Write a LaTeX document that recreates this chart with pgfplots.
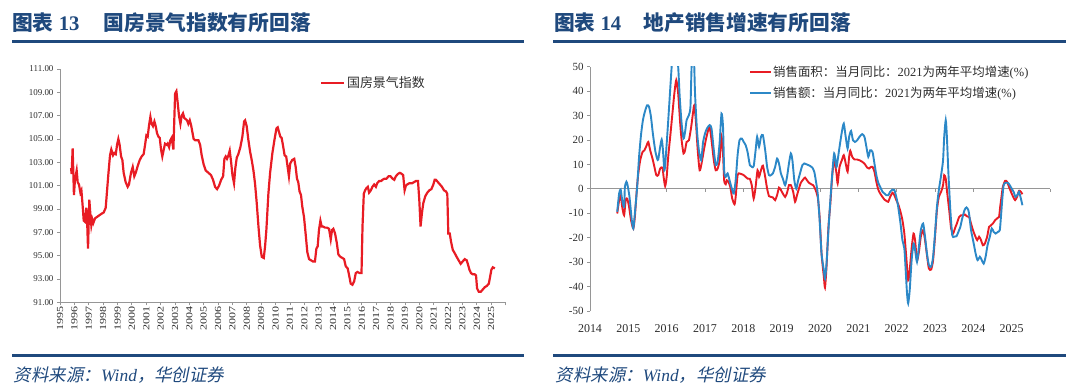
\documentclass[border=0pt]{standalone}
\usepackage{pgfplots}
\pgfplotsset{compat=1.18}
\usepackage{fontspec}
\setmainfont{Liberation Serif}
\newfontfamily\cjk{Noto Sans CJK SC}
\newfontfamily\cjkit{Noto Sans CJK SC}[FakeSlant=0.2]
\definecolor{tblue}{RGB}{31,73,125}
\definecolor{lred}{RGB}{232,28,36}
\definecolor{sblue}{RGB}{44,136,199}
\definecolor{axgray}{RGB}{150,150,150}
\definecolor{txt}{RGB}{45,45,45}
\newcommand\yl[1]{\scalebox{1.3}[1]{#1}}
\begin{document}
\begin{tikzpicture}
\path[use as bounding box] (0bp,0bp) rectangle (1080bp,390bp);
% titles
\node[anchor=base west, inner sep=0, text=tblue] at (12bp,359.5bp) {\fontsize{20.8}{24}\selectfont{\cjk\bfseries 图表} \textbf{13}};
\node[anchor=base west, inner sep=0, text=tblue] at (103.4bp,359.5bp) {\fontsize{20.8}{24}\selectfont\cjk\bfseries 国房景气指数有所回落};
\node[anchor=base west, inner sep=0, text=tblue] at (553.8bp,359.5bp) {\fontsize{20.8}{24}\selectfont{\cjk\bfseries 图表} \textbf{14}};
\node[anchor=base west, inner sep=0, text=tblue] at (643.4bp,359.5bp) {\fontsize{20.8}{24}\selectfont\cjk\bfseries 地产销售增速有所回落};
\draw[tblue, line width=3bp] (12bp,348.6bp) -- (524bp,348.6bp);
\draw[tblue, line width=3bp] (12bp,34.5bp) -- (524bp,34.5bp);
\draw[tblue, line width=3bp] (553bp,348.6bp) -- (1066bp,348.6bp);
\draw[tblue, line width=3bp] (553bp,34.5bp) -- (1066bp,34.5bp);
\node[anchor=base west, inner sep=0, text=tblue] at (13.8bp,9bp) {\fontsize{17.5}{20}\selectfont\cjkit 资料来源：{\rmfamily\itshape Wind}，华创证券};
\node[anchor=base west, inner sep=0, text=tblue] at (555.5bp,9bp) {\fontsize{17.5}{20}\selectfont\cjkit 资料来源：{\rmfamily\itshape Wind}，华创证券};

% ---------- left chart ----------
\begin{axis}[
  at={(60bp,87.7bp)}, anchor=south west,
  scale only axis, width=445.5bp, height=233.3bp,
  xmin=1995, xmax=2026, ymin=91, ymax=111,
  axis lines=left, axis line style={axgray, -, line width=0.8bp},
  tick style={axgray, line width=0.8bp}, tick align=outside, major tick length=3bp,
  xtick={1995,1996,1997,1998,1999,2000,2001,2002,2003,2004,2005,2006,2007,2008,2009,2010,2011,2012,2013,2014,2015,2016,2017,2018,2019,2020,2021,2022,2023,2024,2025,2026},
  xticklabels={\yl{1995},\yl{1996},\yl{1997},\yl{1998},\yl{1999},\yl{2000},\yl{2001},\yl{2002},\yl{2003},\yl{2004},\yl{2005},\yl{2006},\yl{2007},\yl{2008},\yl{2009},\yl{2010},\yl{2011},\yl{2012},\yl{2013},\yl{2014},\yl{2015},\yl{2016},\yl{2017},\yl{2018},\yl{2019},\yl{2020},\yl{2021},\yl{2022},\yl{2023},\yl{2024},\yl{2025},{}},
  xticklabel style={rotate=90, anchor=east, font=\fontsize{9.3}{10}\selectfont, text=txt, inner sep=1bp},
  ytick={91,93,...,111},
  yticklabel style={font=\fontsize{9}{10}\selectfont, text=txt, /pgf/number format/fixed, /pgf/number format/fixed zerofill, /pgf/number format/precision=2, /pgf/number format/assume math mode=true},
  legend style={at={(0.584,0.939)}, anchor=west, draw=none, fill=none, inner sep=0, font=\fontsize{13}{15}\selectfont\cjk, text=txt, nodes={inner sep=1.5bp}},
  legend image code/.code={\draw[#1] (0bp,0bp) -- (23bp,0bp);},
]
\addplot[lred, line width=2.2bp, mark=none] coordinates {
(1995.77,102.5)(1995.81,102.0)(1995.88,104.2)(1995.97,100.2)(1996.04,101.5)(1996.16,102.3)(1996.23,101.3)(1996.32,101.1)(1996.42,100.4)(1996.49,100.6)
(1996.58,99.2)(1996.65,98.0)(1996.74,97.9)(1996.83,99.1)(1996.90,97.5)(1996.95,95.6)(1997.04,99.8)(1997.11,98.6)(1997.18,97.6)(1997.25,98.1)
(1997.32,97.8)(1997.44,98.2)(1997.67,98.4)(1997.90,98.6)(1998.04,98.7)(1998.18,99.1)(1998.27,100.5)(1998.36,101.9)(1998.48,103.6)(1998.57,104.1)
(1998.69,103.6)(1998.78,103.8)(1998.88,103.7)(1998.97,104.5)(1999.06,105.0)(1999.15,104.5)(1999.25,103.5)(1999.34,103.2)(1999.43,102.1)(1999.57,101.3)
(1999.71,100.9)(1999.80,101.1)(1999.94,102.1)(2000.06,102.6)(2000.17,101.8)(2000.27,102.1)(2000.41,102.7)(2000.55,103.2)(2000.68,103.5)(2000.82,103.7)
(2000.92,104.5)(2001.01,105.3)(2001.10,105.2)(2001.20,106.2)(2001.29,106.9)(2001.38,106.3)(2001.47,106.1)(2001.57,106.5)(2001.66,106.1)(2001.75,105.5)
(2001.85,105.2)(2001.94,105.1)(2002.03,104.1)(2002.12,103.5)(2002.22,104.1)(2002.31,104.6)(2002.43,104.5)(2002.49,104.6)(2002.59,104.3)(2002.68,104.9)
(2002.77,105.1)(2002.89,104.1)(2003.01,108.9)(2003.10,109.1)(2003.19,108.1)(2003.28,107.0)(2003.38,106.3)(2003.47,107.0)(2003.56,107.2)(2003.65,106.8)
(2003.75,106.7)(2003.84,106.6)(2003.93,106.3)(2004.03,106.6)(2004.12,106.2)(2004.21,105.6)(2004.30,105.0)(2004.40,104.9)(2004.51,104.9)(2004.63,104.9)
(2004.75,104.5)(2004.86,103.6)(2005.00,102.8)(2005.14,102.3)(2005.33,102.1)(2005.51,101.9)(2005.65,101.5)(2005.79,100.9)(2005.93,100.7)(2006.07,101.0)
(2006.21,101.5)(2006.35,101.8)(2006.44,103.3)(2006.53,103.5)(2006.62,103.3)(2006.72,103.6)(2006.81,104.0)(2006.90,103.1)(2007.00,101.9)(2007.11,101.2)
(2007.20,102.5)(2007.30,103.4)(2007.41,103.7)(2007.55,104.3)(2007.69,105.2)(2007.81,106.5)(2007.88,106.6)(2007.99,106.1)(2008.11,104.9)(2008.23,103.9)
(2008.34,103.2)(2008.46,102.3)(2008.57,101.2)(2008.69,99.5)(2008.81,97.5)(2008.92,95.9)(2009.04,94.9)(2009.18,94.8)(2009.27,95.8)(2009.36,97.2)
(2009.50,100.3)(2009.62,102.1)(2009.78,103.8)(2009.92,104.9)(2010.06,105.9)(2010.15,106.0)
(2010.33,105.2)(2010.42,105.1)(2010.51,104.5)(2010.63,103.6)(2010.74,103.5)(2010.84,102.6)(2010.93,101.8)(2011.02,102.9)(2011.16,103.2)(2011.30,103.3)
(2011.40,102.6)(2011.49,101.6)(2011.58,101.3)(2011.67,100.5)(2011.77,100.2)(2011.86,99.2)(2011.98,98.3)(2012.09,96.9)(2012.21,95.3)(2012.33,94.7)
(2012.47,94.6)(2012.60,94.5)(2012.74,94.5)(2012.84,95.6)(2012.93,95.8)(2013.02,97.2)(2013.12,98.0)(2013.21,97.5)(2013.30,97.5)(2013.44,97.4)
(2013.58,97.4)(2013.72,97.3)(2013.84,96.4)(2013.93,97.2)(2014.02,97.3)(2014.14,96.9)(2014.26,96.1)(2014.37,95.1)(2014.51,94.9)(2014.65,94.8)
(2014.77,94.7)(2014.88,94.1)(2015.02,93.9)(2015.12,93.3)(2015.23,92.6)(2015.35,92.5)(2015.47,92.8)(2015.58,93.5)(2015.70,93.6)(2015.86,93.5)
(2015.98,93.5)(2016.05,97.5)(2016.14,100.3)(2016.23,100.6)(2016.33,100.8)(2016.42,100.9)(2016.51,100.4)(2016.63,100.6)(2016.74,100.9)(2016.86,101.1)
(2016.98,100.9)(2017.07,101.2)(2017.21,101.4)(2017.35,101.4)(2017.44,101.5)(2017.58,101.6)(2017.72,101.6)(2017.86,101.8)(2018.00,101.8)(2018.14,101.6)
(2018.26,101.5)(2018.37,101.8)(2018.51,102.0)(2018.65,102.1)(2018.79,102.0)(2018.88,101.9)(2018.98,100.6)(2019.07,101.0)(2019.16,101.1)(2019.30,101.2)
(2019.49,101.2)(2019.63,101.3)(2019.77,101.4)(2019.91,101.4)(2020.00,99.8)(2020.09,97.5)(2020.19,98.7)(2020.28,99.5)(2020.42,100.1)(2020.56,100.4)
(2020.70,100.6)(2020.84,100.7)(2020.98,101.1)(2021.07,101.5)(2021.16,101.5)(2021.30,101.3)(2021.44,101.1)(2021.58,100.9)(2021.72,100.6)(2021.86,100.5)
(2021.95,100.3)(2022.02,96.9)(2022.12,96.9)(2022.21,96.2)(2022.33,95.5)(2022.47,95.2)(2022.60,94.9)(2022.74,94.6)(2022.88,94.3)(2023.02,94.5)
(2023.16,94.7)(2023.30,94.6)(2023.40,94.2)(2023.49,93.8)(2023.60,93.5)(2023.72,93.4)(2023.86,93.4)(2023.95,93.3)(2024.02,92.2)(2024.14,91.9)
(2024.28,91.9)(2024.42,92.1)(2024.56,92.3)(2024.70,92.4)(2024.84,92.6)(2024.93,93.2)(2025.02,93.8)(2025.12,94.0)(2025.26,93.9)
};
\addlegendentry{国房景气指数}
\end{axis}

% ---------- right chart ----------
\begin{axis}[
  at={(590bp,79bp)}, anchor=south west,
  scale only axis, width=460bp, height=244.3bp,
  xmin=2014, xmax=2026, ymin=-50, ymax=50,
  axis x line=middle, axis y line=left,
  axis line style={axgray, -, line width=0.8bp},
  hide obscured x ticks=false,
  tick align=outside, major tick length=3bp,
  tick style={axgray, line width=0.8bp},
  xtick={2014,2015,2016,2017,2018,2019,2020,2021,2022,2023,2024,2025,2026},
  xticklabels={2014,2015,2016,2017,2018,2019,2020,2021,2022,2023,2024,2025,{}},
  xticklabel style={yshift=-129bp, font=\fontsize{12}{14}\selectfont, text=txt},
  ytick={-50,-40,...,50},
  yticklabel style={font=\fontsize{11}{13}\selectfont, text=txt, /pgf/number format/assume math mode=true},
  legend style={at={(0.3457,0.935)}, anchor=west, draw=none, fill=none, inner sep=0, font=\fontsize{12.5}{14}\selectfont, text=txt, row sep=7.6bp, nodes={inner sep=1bp}},
  legend cell align=left,
  legend image code/.code={\draw[#1] (0bp,0bp) -- (21bp,0bp);},
]
\addplot[lred, line width=1.9bp, mark=none, smooth, tension=0.4] coordinates {
(2014.71,-10.1)(2014.76,-4.6)(2014.80,-2.6)(2014.84,-7.4)(2014.89,-10.8)(2014.93,-4.6)(2014.97,-4.0)(2015.02,-7.4)(2015.07,-12.8)(2015.13,-16.2)
(2015.17,-11.5)(2015.22,-0.5)(2015.26,6.3)(2015.31,11.7)(2015.37,15.1)(2015.42,15.8)(2015.47,17.5)(2015.52,19.2)(2015.57,15.8)(2015.63,12.4)
(2015.68,9.0)(2015.73,5.6)(2015.78,5.6)(2015.83,8.3)(2015.89,8.7)(2015.92,4.9)(2015.96,1.1)(2016.00,4.9)(2016.04,13.1)(2016.10,22.6)
(2016.15,30.8)(2016.20,39.0)(2016.25,44.5)(2016.30,39.0)(2016.35,27.4)(2016.39,19.9)(2016.44,14.5)(2016.48,15.8)(2016.52,19.2)(2016.58,19.9)
(2016.64,25.4)(2016.69,31.5)(2016.72,34.2)(2016.76,28.1)(2016.81,15.8)(2016.86,7.6)(2016.91,10.4)(2016.97,15.8)(2017.02,19.9)(2017.07,23.3)
(2017.12,25.4)(2017.17,19.9)(2017.23,11.7)(2017.28,7.6)(2017.33,8.3)(2017.38,11.7)(2017.43,21.3)(2017.47,14.5)(2017.50,3.5)(2017.54,1.9)
(2017.57,3.5)(2017.61,2.9)(2017.66,0.8)(2017.71,-4.0)(2017.77,-6.3)(2017.80,-3.3)(2017.85,5.6)(2017.90,6.3)(2017.96,6.0)(2018.01,5.6)
(2018.06,4.9)(2018.11,4.2)(2018.17,4.1)(2018.22,1.5)(2018.27,-4.0)(2018.32,0.8)(2018.37,7.6)(2018.41,4.9)(2018.46,7.6)(2018.51,9.5)
(2018.57,4.9)(2018.62,0.1)(2018.67,-3.0)(2018.72,-3.3)(2018.77,-3.5)(2018.83,-4.6)(2018.88,-2.6)(2018.93,0.5)(2018.98,-0.5)(2019.03,-1.9)
(2019.09,-3.3)(2019.14,-1.6)(2019.19,1.5)(2019.24,1.5)(2019.30,-1.2)(2019.35,-5.3)(2019.40,-2.6)(2019.45,0.1)(2019.50,2.5)(2019.56,3.8)
(2019.61,4.6)(2019.66,3.5)(2019.71,2.5)(2019.77,1.9)(2019.82,1.5)(2019.87,0.1)(2019.94,-3.3)(2019.99,-11.5)(2020.04,-26.5)(2020.10,-36.0)
(2020.13,-40.4)(2020.17,-31.9)(2020.22,-15.6)(2020.27,-6.0)(2020.32,5.6)(2020.37,11.7)(2020.43,6.3)(2020.46,2.2)(2020.51,9.0)(2020.57,11.7)
(2020.62,13.8)(2020.67,10.4)(2020.72,7.0)(2020.76,13.1)(2020.79,15.6)(2020.84,13.1)(2020.90,12.0)(2020.97,12.0)(2021.03,11.7)(2021.10,11.1)
(2021.17,10.1)(2021.23,8.7)(2021.28,8.3)(2021.33,9.0)(2021.37,9.0)(2021.42,7.0)(2021.47,2.9)(2021.52,-0.3)(2021.57,-1.9)(2021.63,-3.3)
(2021.68,-4.4)(2021.73,-4.9)(2021.78,-5.3)(2021.83,-3.3)(2021.89,-1.6)(2021.94,-2.6)(2021.99,-4.6)(2022.04,-6.3)(2022.10,-9.4)(2022.15,-12.8)
(2022.20,-18.3)(2022.25,-27.8)(2022.30,-37.4)(2022.34,-33.3)(2022.39,-24.4)(2022.44,-18.3)(2022.48,-21.0)(2022.53,-29.2)(2022.58,-25.8)(2022.63,-19.6)
(2022.69,-16.9)(2022.74,-21.0)(2022.79,-27.1)(2022.84,-32.6)(2022.90,-33.0)(2022.95,-29.2)(2023.00,-19.6)(2023.05,-8.7)(2023.10,-3.3)(2023.16,-1.2)
(2023.21,1.5)(2023.24,5.6)(2023.28,4.2)(2023.31,-0.5)(2023.37,-8.7)(2023.42,-16.2)(2023.47,-18.3)(2023.52,-16.2)(2023.57,-14.2)(2023.63,-11.5)
(2023.68,-10.8)(2023.73,-10.8)(2023.78,-10.5)(2023.83,-11.2)(2023.89,-11.5)(2023.94,-14.2)(2023.99,-16.9)(2024.04,-19.0)(2024.10,-21.0)(2024.15,-19.6)
(2024.20,-21.0)(2024.25,-23.1)(2024.30,-22.4)(2024.36,-19.6)(2024.41,-15.6)(2024.46,-14.9)(2024.51,-14.2)(2024.57,-12.8)(2024.62,-12.1)(2024.67,-11.5)
(2024.70,-7.4)(2024.74,-2.6)(2024.77,0.8)(2024.83,3.3)(2024.88,2.9)(2024.93,0.8)(2024.98,-1.2)(2025.04,-3.3)(2025.09,-4.6)(2025.14,-3.3)
(2025.19,-0.8)(2025.24,-1.2)(2025.28,-2.2)
};
\addlegendentry{{\cjk 销售面积：当月同比：}2021{\cjk 为两年平均增速}(\%)}
\addplot[sblue, line width=1.9bp, mark=none, smooth, tension=0.4] coordinates {
(2014.71,-9.4)(2014.76,-1.9)(2014.80,-0.3)(2014.84,-4.6)(2014.89,-7.4)(2014.91,0.8)(2014.95,2.9)(2014.98,1.5)(2015.03,-3.3)(2015.09,-12.8)
(2015.13,-16.2)(2015.17,-10.1)(2015.23,0.8)(2015.28,13.1)(2015.33,22.0)(2015.38,28.1)(2015.43,31.5)(2015.49,34.2)(2015.54,33.6)(2015.59,29.5)
(2015.64,22.6)(2015.70,15.8)(2015.75,12.4)(2015.78,12.0)(2015.83,17.2)(2015.87,20.2)(2015.90,16.5)(2015.94,7.6)(2015.97,11.7)(2016.03,25.4)
(2016.08,37.7)(2016.13,50.0)(2016.21,68.0)(2016.30,50.0)(2016.34,37.7)(2016.39,26.7)(2016.44,20.6)(2016.48,23.3)(2016.52,28.1)(2016.58,30.2)
(2016.62,33.6)(2016.65,50.0)(2016.69,62.0)(2016.72,50.0)(2016.74,39.0)(2016.79,24.0)(2016.84,15.8)(2016.90,11.7)(2016.95,19.2)(2017.00,22.6)
(2017.05,24.7)(2017.12,26.1)(2017.17,24.7)(2017.23,15.8)(2017.28,9.7)(2017.33,11.1)(2017.38,18.6)(2017.43,30.8)(2017.47,25.4)(2017.50,7.6)
(2017.54,4.9)(2017.59,6.3)(2017.64,3.5)(2017.70,0.1)(2017.75,-1.9)(2017.80,3.5)(2017.85,13.8)(2017.90,19.9)(2017.96,20.6)(2018.01,19.2)
(2018.06,17.9)(2018.11,15.1)(2018.17,9.7)(2018.22,9.0)(2018.27,9.3)(2018.32,15.8)(2018.36,21.3)(2018.41,17.2)(2018.46,21.3)(2018.51,22.0)
(2018.57,15.8)(2018.62,9.0)(2018.67,5.6)(2018.72,5.6)(2018.77,6.3)(2018.83,9.0)(2018.88,12.4)(2018.93,10.4)(2018.98,6.3)(2019.03,4.2)
(2019.09,1.5)(2019.14,4.9)(2019.19,10.4)(2019.24,14.5)(2019.28,11.7)(2019.33,3.5)(2019.38,0.1)(2019.43,3.5)(2019.49,7.0)(2019.54,9.7)
(2019.59,10.4)(2019.64,10.1)(2019.70,9.7)(2019.75,9.3)(2019.80,8.7)(2019.85,7.0)(2019.89,3.5)(2019.94,-1.9)(2019.99,-12.8)(2020.04,-26.5)
(2020.10,-33.3)(2020.13,-36.7)(2020.17,-30.6)(2020.22,-16.9)(2020.27,-4.6)(2020.32,6.3)(2020.37,14.5)(2020.43,9.0)(2020.46,11.7)(2020.51,17.2)
(2020.57,23.3)(2020.62,26.7)(2020.67,21.3)(2020.72,16.5)(2020.76,21.3)(2020.81,23.7)(2020.86,19.9)(2020.91,19.2)(2020.97,19.9)(2021.03,21.3)
(2021.10,22.4)(2021.16,21.3)(2021.21,17.2)(2021.26,13.1)(2021.31,15.8)(2021.37,15.1)(2021.42,10.4)(2021.47,5.6)(2021.52,2.5)(2021.57,0.8)
(2021.63,-1.2)(2021.68,-1.9)(2021.73,-2.6)(2021.78,-2.6)(2021.83,-1.2)(2021.89,-0.3)(2021.94,-0.5)(2021.99,-3.3)(2022.04,-7.4)(2022.10,-14.2)
(2022.15,-21.0)(2022.20,-24.4)(2022.23,-31.9)(2022.27,-42.8)(2022.30,-46.9)(2022.34,-41.5)(2022.39,-29.2)(2022.44,-22.4)(2022.48,-25.0)(2022.53,-29.9)
(2022.58,-23.7)(2022.63,-16.9)(2022.69,-14.2)(2022.74,-19.6)(2022.79,-26.5)(2022.84,-31.2)(2022.90,-31.9)(2022.95,-27.8)(2023.00,-18.3)(2023.05,-7.4)
(2023.10,-0.5)(2023.16,5.6)(2023.21,11.7)(2023.24,21.3)(2023.28,28.1)(2023.31,21.3)(2023.35,6.3)(2023.40,-8.7)(2023.45,-19.0)(2023.50,-19.6)
(2023.56,-19.4)(2023.61,-17.6)(2023.66,-15.6)(2023.71,-12.1)(2023.77,-8.7)(2023.82,-7.6)(2023.87,-8.7)(2023.90,-11.5)(2023.94,-16.9)(2024.01,-22.4)
(2024.06,-26.5)(2024.11,-29.2)(2024.17,-27.8)(2024.22,-29.2)(2024.27,-30.6)(2024.32,-27.8)(2024.37,-23.1)(2024.43,-19.6)(2024.48,-16.2)(2024.53,-17.6)
(2024.58,-18.3)(2024.64,-17.6)(2024.69,-16.9)(2024.72,-11.5)(2024.76,-3.3)(2024.79,1.5)(2024.84,2.5)(2024.90,2.5)(2024.95,1.5)(2025.00,0.1)
(2025.05,-1.2)(2025.10,-3.3)(2025.16,-2.2)(2025.19,-1.2)(2025.23,-3.3)(2025.28,-6.7)
};
\addlegendentry{{\cjk 销售额：当月同比：}2021{\cjk 为两年平均增速}(\%)}
\end{axis}
\end{tikzpicture}
\end{document}
